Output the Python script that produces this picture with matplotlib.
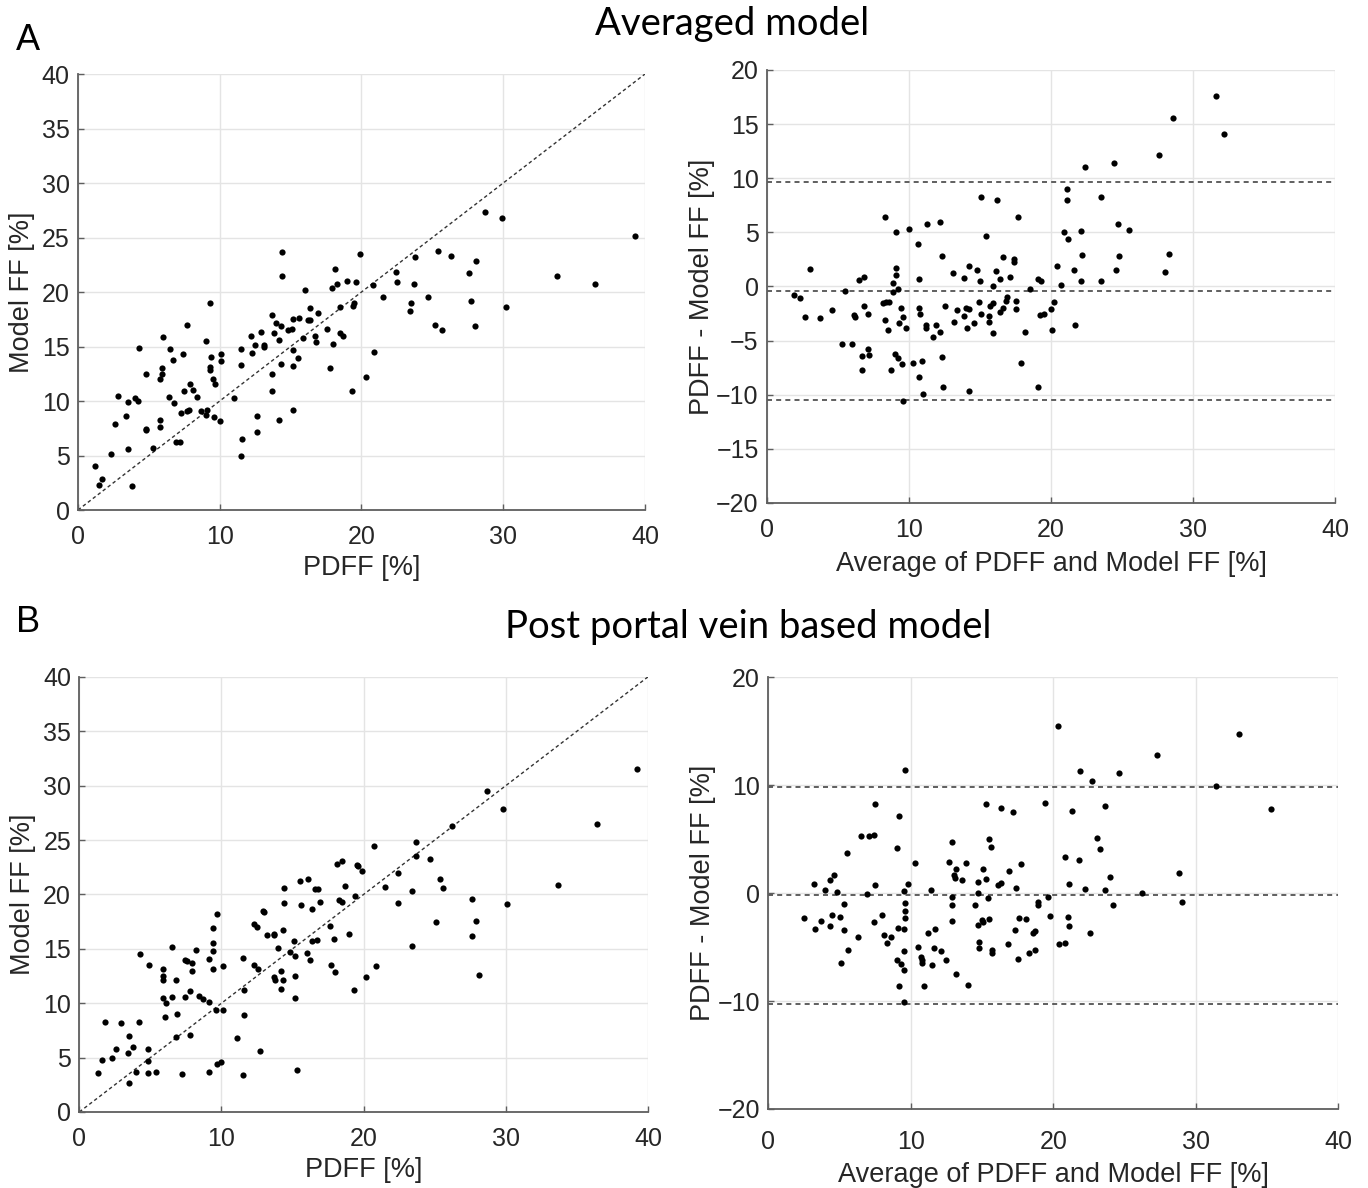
import numpy as np
import matplotlib.pyplot as plt

plt.rcParams['font.family'] = ['Liberation Sans', 'DejaVu Sans']

# Panel A - averaged model: PDFF vs model FF
a_pdff = [1.2, 1.5, 1.7, 3.8, 2.3, 2.6, 2.8, 3.4, 3.5, 3.5,
          4.0, 4.2, 4.3, 4.8, 4.8, 4.8, 5.3, 5.8, 5.8, 5.8,
          5.9, 5.9, 6.0, 6.4, 6.5, 6.7, 6.8, 6.9, 7.2, 7.3,
          7.4, 7.5, 7.7, 7.7, 7.8, 7.9, 8.1, 8.4, 8.7, 9.0,
          9.0, 9.1, 9.3, 9.4, 9.3, 9.3, 9.5, 9.7, 9.6, 10.0,
          10.1, 10.1, 11.0, 11.5, 11.6, 11.5, 11.5, 12.2, 12.3, 12.5,
          12.6, 12.6, 12.9, 13.1, 13.1, 13.7, 13.7, 13.7, 13.8, 14.0,
          14.2, 14.3, 14.3, 14.2, 14.4, 14.4, 14.8, 15.1, 15.2, 15.2,
          15.2, 15.2, 15.5, 15.6, 15.9, 16.0, 16.2, 16.4, 16.4, 16.7,
          16.8, 16.9, 17.6, 17.8, 17.9, 18.0, 18.1, 18.3, 18.5, 18.5,
          18.7, 19.0, 19.3, 19.4, 19.5, 19.6, 19.9, 20.3,
          20.8, 20.9, 21.5, 22.4, 22.5, 23.4, 23.5, 23.7, 23.8, 24.7,
          25.2, 25.4, 25.7, 26.3, 27.6, 27.7, 28.0, 28.1, 28.7, 29.9,
          30.2, 33.8, 36.5, 39.3]
a_model = [4.0, 2.3, 2.8, 2.2, 5.1, 7.9, 10.5, 8.6, 5.6, 9.9,
           10.3, 10.0, 14.9, 7.4, 7.3, 12.5, 5.7, 8.3, 7.6, 12.0,
           12.5, 13.0, 15.9, 10.4, 14.8, 13.8, 9.8, 6.2, 6.2, 8.9,
           14.3, 10.9, 17.0, 9.1, 9.2, 11.6, 11.0, 10.4, 9.1, 15.5,
           8.7, 9.2, 19.0, 14.0, 13.1, 12.8, 12.0, 11.6, 8.5, 8.2,
           14.3, 13.7, 10.3, 5.0, 6.5, 14.8, 13.3, 16.0, 14.4, 15.1,
           7.2, 8.6, 16.3, 15.0, 15.1, 17.9, 12.5, 10.9, 16.2, 17.2,
           15.6, 16.9, 13.4, 8.3, 23.7, 21.5, 16.5, 16.6, 17.5, 14.7,
           13.2, 9.2, 13.9, 17.6, 15.8, 20.2, 17.4, 17.4, 18.5, 16.0,
           15.4, 18.1, 16.6, 13.0, 20.4, 15.2, 22.1, 20.7, 18.6, 16.2,
           16.0, 21.0, 10.9, 18.7, 19.0, 20.9, 23.5, 12.2,
           20.6, 14.5, 19.5, 21.8, 20.9, 18.3, 19.0, 20.7, 23.2, 19.5,
           17.0, 23.8, 16.5, 23.3, 21.7, 19.2, 16.9, 22.8, 27.3, 26.8,
           18.6, 21.5, 20.7, 25.1]

# Panel A - Bland-Altman
a_avg = [1.9, 2.3, 2.7, 3.0, 3.7, 4.6, 5.3, 5.5, 6.0, 6.1,
         6.2, 6.5, 6.8, 6.7, 6.7, 6.8, 7.1, 7.1, 7.2, 8.2,
         8.3, 8.4, 8.6, 8.3, 8.5, 8.7, 8.9, 8.9, 9.1, 9.1,
         9.1, 9.2, 9.0, 9.2, 9.3, 9.4, 9.5, 9.6, 9.6, 9.8,
         10.0, 10.3, 10.6, 10.7, 10.7, 10.7, 10.8, 10.9, 11.0, 11.2,
         11.2, 11.3, 11.7, 11.9, 12.2, 12.2, 12.3, 12.3, 12.4, 12.5,
         13.1, 13.2, 13.4, 13.9, 13.9, 14.0, 14.2, 14.1, 14.2, 14.2,
         14.6, 14.8, 14.9, 15.0, 15.1, 15.1, 15.4, 15.6, 15.6, 15.7,
         15.9, 15.9, 15.9, 16.1, 16.2, 16.4, 16.4, 16.6, 16.6, 16.8,
         16.9, 17.1, 17.4, 17.4, 17.5, 17.5, 17.7, 17.9, 18.2, 18.5,
         19.1, 19.1, 19.2, 19.3, 19.5, 20.0, 20.1, 20.2, 20.4,
         20.7, 20.9, 21.1, 21.1, 21.2, 21.6, 21.7, 22.1, 22.1, 22.2,
         22.4, 23.5, 23.5, 24.4, 24.6, 24.7, 24.8, 25.5, 27.6, 28.0,
         28.3, 28.6, 31.6, 32.2]
a_diff = [-0.8, -1.1, -2.8, 1.6, -2.9, -2.2, -5.3, -0.4, -5.3, -2.6,
          -2.8, 0.6, 0.9, -6.4, -7.7, -1.8, -2.5, -5.8, -6.3, -1.5,
          6.4, -1.4, -1.4, -3.1, -4.0, -7.7, 0.3, -0.5, 1.7, 1.1,
          5.0, -0.2, -6.2, -6.6, -3.4, -2.0, -7.2, -2.8, -10.6, -3.8,
          5.3, -7.1, 3.9, 0.7, -2.0, -8.4, -2.5, -6.9, -9.9, -3.6,
          -3.8, 5.8, -4.7, -3.6, -4.2, 6.0, 2.8, -6.5, -9.3, -1.8,
          1.2, -3.3, -2.2, 0.8, -2.7, -2.0, -2.1, -3.8, 1.9, -9.7,
          -3.4, 1.5, -1.4, 0.5, -2.5, 8.3, 4.7, -2.7, -3.3, -1.8,
          -1.5, -4.3, 0.0, 1.4, 8.0, 0.7, -2.4, 2.7, -2.0, -1.3,
          -1.0, 0.9, 2.5, 2.3, -2.1, -1.3, 6.4, -7.1, -4.2, -0.2,
          0.7, -9.3, -2.6, 0.5, -2.5, -2.1, -4.0, -1.4, 1.9,
          0.1, 5.0, 8.0, 9.0, 4.4, 1.5, -3.6, 0.5, 5.1, 2.9,
          11.0, 8.3, 0.5, 11.4, 1.5, 5.8, 2.8, 5.2, 12.1, 1.3,
          3.0, 15.6, 17.6, 14.1]
a_mean_diff = -0.4
a_loa = [9.65, -10.45]

# Panel B - post portal vein based model
b_pdff = [1.3, 1.6, 1.8, 2.3, 2.6, 2.9, 3.4, 3.5, 3.5, 3.8,
          4.0, 4.2, 4.3, 4.8, 4.8, 4.8, 4.9, 5.4, 5.9, 5.9,
          5.9, 5.9, 6.0, 6.1, 6.5, 6.5, 6.8, 6.8, 6.9, 7.2,
          7.4, 7.4, 7.6, 7.8, 7.8, 7.9, 7.9, 8.2, 8.4, 8.7,
          9.1, 9.1, 9.1, 9.4, 9.4, 9.4, 9.4, 9.6, 9.7, 9.7,
          10.0, 10.1, 10.1, 11.1, 11.5, 11.5, 11.6, 11.6, 12.3, 12.3,
          12.5, 12.6, 12.7, 12.9, 13.0, 13.2, 13.7, 13.7, 13.7, 13.8,
          14.0, 14.2, 14.3, 14.2, 14.3, 14.4, 14.4, 14.8, 15.1, 15.2,
          15.2, 15.2, 15.3, 15.5, 15.6, 16.0, 16.1, 16.2, 16.4, 16.4,
          16.6, 16.7, 16.8, 16.9, 17.6, 17.7, 17.9, 18.0, 18.1, 18.3,
          18.5, 18.5, 18.7, 19.0, 19.3, 19.4, 19.5, 19.6, 19.9, 20.2,
          20.7, 20.9, 21.5, 22.4, 22.4, 23.4, 23.4, 23.7, 23.7, 24.7,
          25.1, 25.4, 25.6, 26.2, 27.6, 27.6, 27.9, 28.1, 28.7, 29.8,
          30.1, 33.7, 36.4, 39.2]
b_model = [3.6, 4.8, 8.3, 5.0, 5.8, 8.2, 5.4, 2.7, 7.0, 6.0,
           3.7, 8.3, 14.5, 5.8, 4.7, 3.6, 13.5, 3.7, 13.1, 12.5,
           12.1, 10.5, 8.7, 10.0, 10.6, 15.2, 12.1, 6.9, 9.0, 3.5,
           10.6, 14.0, 13.9, 7.1, 11.1, 13.7, 13.0, 14.9, 10.7, 10.4,
           14.1, 3.7, 10.1, 15.5, 14.8, 13.1, 16.9, 9.4, 4.4, 18.2,
           4.6, 13.4, 9.4, 6.8, 3.4, 14.2, 11.2, 8.9, 17.3, 13.5,
           17.0, 13.1, 5.6, 18.5, 18.4, 16.3, 16.3, 16.4, 12.4, 12.1,
           15.1, 13.0, 12.1, 11.3, 16.7, 19.2, 20.6, 14.7, 15.7, 14.3,
           12.5, 10.5, 3.9, 21.2, 19.0, 14.6, 21.4, 14.0, 18.7, 15.7,
           20.5, 15.8, 20.5, 19.3, 17.1, 13.5, 15.9, 12.9, 22.8, 19.5,
           23.1, 19.3, 20.8, 16.4, 11.2, 19.9, 22.7, 22.6, 22.2, 12.4,
           24.5, 13.4, 20.7, 22.0, 19.2, 20.3, 15.3, 24.8, 23.5, 23.3,
           17.5, 21.4, 20.6, 26.3, 16.2, 19.6, 17.6, 12.6, 29.5, 27.9,
           19.1, 20.9, 26.5, 31.5]

b_avg = [2.5, 3.2, 3.3, 3.7, 4.0, 4.3, 4.3, 4.5, 4.6, 4.8,
         5.0, 5.1, 5.3, 5.3, 5.5, 5.6, 6.3, 6.5, 6.9, 7.1,
         7.4, 7.4, 7.5, 7.5, 8.0, 8.1, 8.3, 8.6, 9.0, 9.0,
         9.1, 9.2, 9.2, 9.3, 9.5, 9.5, 9.5, 9.5, 9.5, 9.6,
         9.6, 9.6, 9.6, 9.8, 10.3, 10.5, 10.7, 10.8, 10.8, 10.9,
         11.2, 11.4, 11.5, 11.6, 11.7, 12.1, 12.5, 12.7, 12.9, 12.9,
         12.9, 12.9, 13.0, 13.1, 13.2, 13.2, 13.6, 13.9, 14.0, 14.5,
         14.7, 14.7, 14.7, 14.8, 14.8, 15.0, 15.1, 15.1, 15.3, 15.3,
         15.4, 15.5, 15.5, 15.6, 15.7, 15.7, 16.1, 16.3, 16.3, 16.8,
         16.9, 17.2, 17.3, 17.4, 17.5, 17.6, 17.7, 18.1, 18.3, 18.6,
         18.7, 18.7, 18.9, 18.9, 19.4, 19.6, 19.8,
         20.3, 20.4, 20.8, 20.8, 21.0, 21.1, 21.1, 21.3, 21.8, 21.9,
         22.2, 22.6, 22.7, 23.1, 23.3, 23.6, 23.6, 24.0, 24.2, 24.6,
         26.2, 27.3, 28.8, 29.0, 31.4, 33.0, 35.3]
b_diff = [-2.3, 0.8, -3.3, -2.6, 0.3, -3.1, 1.2, -2.0, 1.7, 0.1,
          -2.2, -6.5, -3.4, -1.0, 3.7, -5.3, -4.1, 5.3, -0.1, 5.3,
          5.4, -2.7, 0.7, 8.2, -2.0, -3.9, -4.6, -4.1, -6.2, 4.2,
          -3.2, 7.1, -8.6, -6.6, -5.4, -3.3, -10.1, 0.2, -7.1, -0.9,
          -1.7, -2.3, 11.4, 0.8, 2.8, -5.0, -5.9, -6.5, -6.2, -8.6,
          -3.7, 0.3, -6.7, -5.1, -3.3, -5.4, -6.2, 2.9, -2.6, -1.1,
          -0.4, 4.7, 1.7, 1.4, 2.2, -7.5, 1.2, 2.8, -8.5, -1.1,
          -3.0, 1.0, 0.0, -4.5, -5.1, -2.5, -2.7, 2.2, 8.2, 1.3,
          -0.5, 5.0, -2.4, 4.3, -5.3, -5.6, 0.7, 0.9, 7.9, -4.7,
          2.0, 7.5, -3.4, 0.5, -6.1, -2.3, 2.7, -2.4, -5.6, -3.7,
          -3.5, -5.3, -1.1, -0.8, 8.3, -0.4, -2.1,
          15.5, -4.7, -4.6, 3.3, -2.2, -3.1, 0.8, 7.6, 3.1, 11.3,
          0.4, -3.7, 10.4, 5.1, 4.1, 8.1, 0.3, 1.5, -1.1, 11.1,
          0.0, 12.8, 1.9, -0.8, 9.9, 14.7, 7.8]
b_mean_diff = -0.22
b_loa = [9.86, -10.3]

AX_COL = '#5e5e5e'
GRID_COL = '#e4e4e4'
TICK_FS = 18
LABEL_FS = 19.5


def style(ax, xlim, ylim, xticks, yticks, xpad):
    ax.set_xlim(xlim)
    ax.set_ylim(ylim)
    ax.set_xticks(xticks)
    ax.set_yticks(yticks)
    ax.grid(True, color=GRID_COL, linewidth=1)
    ax.set_axisbelow(True)
    for s in ['top', 'right']:
        ax.spines[s].set_visible(False)
    for s in ['left', 'bottom']:
        ax.spines[s].set_color(AX_COL)
        ax.spines[s].set_linewidth(1.3)
    ax.tick_params(direction='in', length=4, width=1, color=AX_COL,
                   labelsize=TICK_FS, labelcolor='#262626', pad=6)
    ax.tick_params(axis='x', pad=xpad)


def scatter_panel(ax, x, y, xpad=11):
    ax.plot([0, 40], [0, 40], color='#333333', linestyle=(0, (2.5, 2)), linewidth=1)
    ax.scatter(x, y, s=20, color='black', linewidths=0, zorder=3)
    style(ax, (0, 40), (0, 40), np.arange(0, 41, 10), np.arange(0, 41, 5), xpad)
    ax.set_xlabel('PDFF [%]', fontsize=LABEL_FS, color='#262626', labelpad=4)
    ax.set_ylabel('Model FF [%]', fontsize=LABEL_FS, color='#262626', labelpad=5)


def ba_panel(ax, x, y, mean_d, loa, xpad=11):
    for v in [loa[0], mean_d, loa[1]]:
        ax.axhline(v, color='#444444', linestyle=(0, (3, 2.5)), linewidth=1.2, zorder=2)
    ax.scatter(x, y, s=20, color='black', linewidths=0, zorder=3)
    style(ax, (0, 40), (-20, 20), np.arange(0, 41, 10), np.arange(-20, 21, 5), xpad)
    ax.set_xlabel('Average of PDFF and Model FF [%]', fontsize=LABEL_FS,
                  color='#262626', labelpad=6)
    ax.set_ylabel('PDFF - Model FF [%]', fontsize=LABEL_FS, color='#262626', labelpad=1)


fig = plt.figure(figsize=(13.68, 11.88), dpi=100)

ax1 = fig.add_axes([0.0570, 0.5707, 0.4145, 0.3670])
scatter_panel(ax1, a_pdff, a_model)
ax2 = fig.add_axes([0.5607, 0.5766, 0.4152, 0.3645])
ba_panel(ax2, a_avg, a_diff, a_mean_diff, a_loa)
ax3 = fig.add_axes([0.0580, 0.0640, 0.4156, 0.3662])
scatter_panel(ax3, b_pdff, b_model)
ax4 = fig.add_axes([0.5616, 0.0665, 0.4167, 0.3636])
ba_panel(ax4, b_avg, b_diff, b_mean_diff, b_loa, xpad=15)
ax4.set_yticks([-20, -10, 0, 10, 20])

fig.text(28 / 1368, 1 - 40 / 1188, 'A', fontsize=26, ha='center', va='center')
fig.text(28 / 1368, 1 - 622 / 1188, 'B', fontsize=26, ha='center', va='center')
fig.text(732 / 1368, 1 - 24 / 1188, 'Averaged model', fontsize=27.5,
         ha='center', va='center', family=['Lato', 'DejaVu Sans'])
fig.text(748 / 1368, 1 - 627 / 1188, 'Post portal vein based model', fontsize=27.5,
         ha='center', va='center', family=['Lato', 'DejaVu Sans'])

fig.savefig('out.png', dpi=100)
